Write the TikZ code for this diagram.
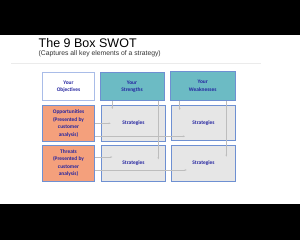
\documentclass[tikz,border=0pt]{standalone}
\usepackage{fontspec}
\setmainfont{Liberation Sans}
\newfontfamily\boxfont{Carlito}
\usetikzlibrary{arrows.meta}
\definecolor{teal1}{HTML}{6CBBC4}
\definecolor{bord}{HTML}{6E90D2}
\definecolor{lbord}{HTML}{A9BCE8}
\definecolor{salmon}{HTML}{F4A07C}
\definecolor{grayfill}{HTML}{E6E6E6}
\definecolor{navy}{HTML}{2424A0}
\definecolor{arr}{HTML}{BDBDBD}
\begin{document}
\begin{tikzpicture}[x=1pt,y=-1pt,
  cell/.style={draw=bord,line width=0.9pt,inner sep=0pt,align=center,text=navy,
    font=\boxfont\bfseries\fontsize{5.4}{7.5}\selectfont},
  strat/.style={cell,fill=grayfill},
  arrowline/.style={draw=arr,line width=0.45pt,-{Stealth[length=2pt,width=1.6pt]}}]
\useasboundingbox (0,0) rectangle (300,240);
\fill[black] (0,0) rectangle (300,240);
\fill[white] (0,35) rectangle (300,204);
\node[anchor=west,inner sep=0pt,font=\fontsize{12.5}{14}\selectfont] (title) at (38.5,43.5) {The 9 Box SWOT};
\node[anchor=west,inner sep=0pt,font=\fontsize{6.8}{8}\selectfont,text=black!80] (sub) at (38.5,54) {(Captures all key elements of a strategy)};
\draw[black!8,line width=0.6pt] (11,63) -- (261,63);
% row 1
\node[cell,draw=lbord,line width=1pt,fill=white,minimum width=51.6pt,minimum height=28.4pt] (obj) at (68.5,86.5) {Your\\Objectives};
\node[cell,fill=teal1,minimum width=64pt,minimum height=28.4pt] (str) at (132,86.5) {Your\\Strengths};
\node[cell,fill=teal1,minimum width=64.7pt,minimum height=28.6pt] (weak) at (202.7,86) {Your\\Weaknesses};
% row 2
\node[cell,fill=salmon,minimum width=51.6pt,minimum height=36pt] (opp) at (68.5,123.3) {Opportunities\\(Presented by\\customer\\analysis)};
\node[strat,minimum width=64.4pt,minimum height=36pt] (s1) at (133.5,123.3) {Strategies};
\node[strat,minimum width=64.4pt,minimum height=35pt] (s2) at (203.5,122.8) {Strategies};
% row 3
\node[cell,fill=salmon,minimum width=51.6pt,minimum height=36.3pt] (thr) at (68.5,163.2) {Threats\\(Presented by\\customer\\analysis)};
\node[strat,minimum width=64.4pt,minimum height=36.3pt] (s3) at (133.5,163.2) {Strategies};
\node[strat,minimum width=64.4pt,minimum height=36pt] (s4) at (203.5,163) {Strategies};
% connectors
\coordinate (a1) at (112.3,109);
\coordinate (a2) at (158.3,159.3);
\coordinate (a3) at (179.7,110);
\coordinate (a4) at (226.3,156.7);
\coordinate (b1) at (110.7,123.3);
\coordinate (b2) at (185,136.3);
\coordinate (b3) at (112.3,157);
\coordinate (b4) at (186.7,170);
\draw[arrowline] (str.south -| a1) -- (a1);
\draw[arrowline] (str.south -| a2) -- (a2);
\draw[arrowline] (weak.south -| a3) -- (a3);
\draw[arrowline] (weak.south -| a4) -- (a4);
\draw[arrowline] (opp.east |- b1) -- (b1);
\draw[arrowline] (opp.east |- b2) -- (b2);
\draw[arrowline] (thr.east |- b3) -- (b3);
\draw[arrowline] (thr.east |- b4) -- (b4);
\end{tikzpicture}
\end{document}
